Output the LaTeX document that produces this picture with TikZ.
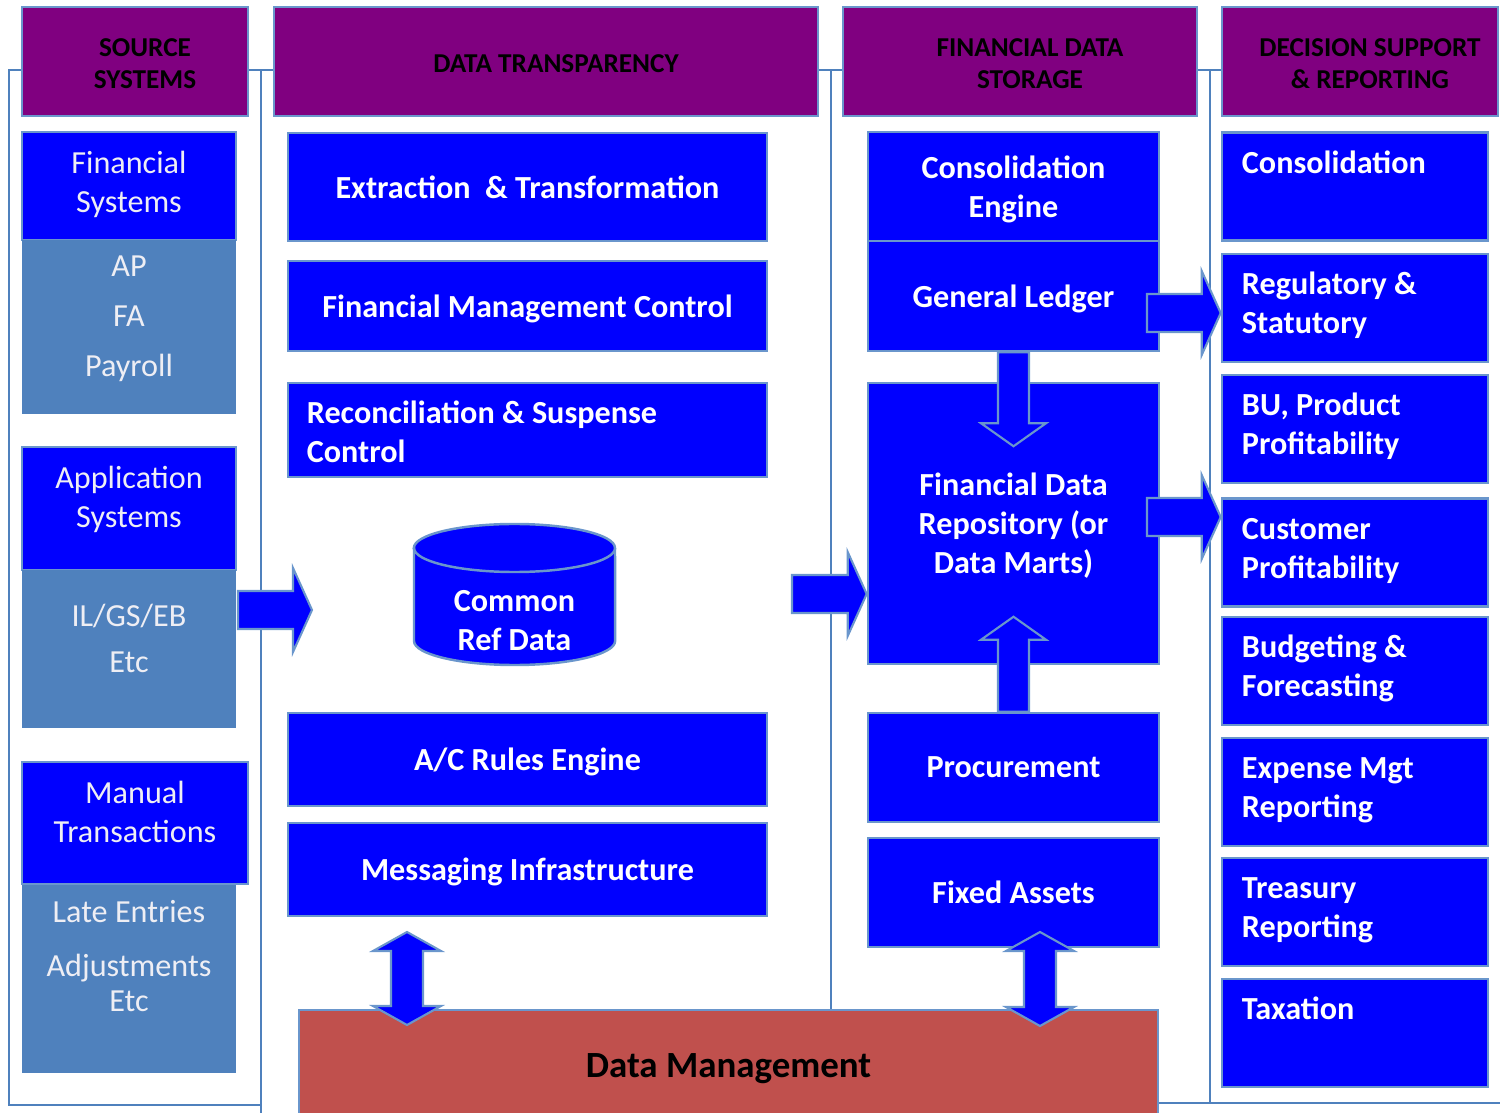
\documentclass[tikz,border=0pt]{standalone}
\usepackage{fontspec}
\setmainfont{Carlito}
\usetikzlibrary{calc}

\definecolor{boxblue}{HTML}{0000FF}
\definecolor{headpurple}{HTML}{800080}
\definecolor{steel}{HTML}{4F81BD}
\definecolor{edge}{HTML}{6A96CC}
\definecolor{dmred}{HTML}{C0504D}
\definecolor{listtext}{HTML}{EEEEF4}

\newcommand{\bodyfont}{\fontsize{9.15}{11.1}\selectfont}
\newcommand{\headfont}{\fontsize{7.75}{9.1}\selectfont\bfseries}
\newcommand{\dmfont}{\fontsize{10.5}{12.6}\selectfont\bfseries}

% text hung from the top of a box: height, width, text
\newcommand{\toptext}[3]{\parbox[c][#1][t]{#2}{\centering\strut #3}}
\newcommand{\lefttext}[3]{\parbox[c][#1][t]{#2}{\raggedright\strut #3}}

% block arrows: tail, tip
\newcommand{\rblock}[2]{%
  \path[blockarrow] ($(#1)+(0,-19)$) -- ($(#2)+(-19,-19)$) -- ($(#2)+(-19,-42)$) -- (#2)
    -- ($(#2)+(-19,42)$) -- ($(#2)+(-19,19)$) -- ($(#1)+(0,19)$) -- cycle;}
% vertical: tail, tip, 1 = up / -1 = down
\newcommand{\vblock}[3]{%
  \path[blockarrow] ($(#1)+(-15.5,0)$) -- ($(#2)+(-15.5,{#3*23})$) -- ($(#2)+(-32.5,{#3*23})$) -- (#2)
    -- ($(#2)+(32.5,{#3*23})$) -- ($(#2)+(15.5,{#3*23})$) -- ($(#1)+(15.5,0)$) -- cycle;}
% two heads: top tip, bottom tip
\newcommand{\dblock}[2]{%
  \path[blockarrow] (#1) -- ($(#1)+(34,19)$) -- ($(#1)+(16,19)$) -- ($(#2)+(16,-19)$) -- ($(#2)+(34,-19)$)
    -- (#2) -- ($(#2)+(-34,-19)$) -- ($(#2)+(-16,-19)$) -- ($(#1)+(-16,19)$) -- ($(#1)+(-34,19)$) -- cycle;}

\begin{document}
\begin{tikzpicture}[x=0.01cm, y=-0.01cm,
    box/.style={draw=edge, line width=0.7pt, fill=boxblue, text=white, inner sep=0pt,
      align=center, font=\bodyfont\bfseries},
    cbox/.style={box, text depth=0pt},
    srcbox/.style={box, font=\bodyfont, text=listtext},
    listbox/.style={srcbox, fill=steel, draw=none},
    head/.style={draw=edge, line width=0.7pt, fill=headpurple, minimum height=1.09cm, inner sep=0pt},
    headtext/.style={font=\headfont, align=center, text=black, xshift=0.1cm, yshift=-0.02cm},
    blockarrow/.style={fill=boxblue, draw=edge, line width=0.6pt},
    frame/.style={draw=steel, line width=0.6pt}]
  \useasboundingbox (0,0) rectangle (1500,1113);
  \clip (0,0) rectangle (1500,1113);

  % column frames
  \draw[frame] (22,70) -- (9,70) -- (9,1105) -- (261,1105);
  \draw[frame] (248,70) -- (274,70);
  \draw[frame] (261,70) -- (261,1113);
  \draw[frame] (818,70) -- (843,70);
  \draw[frame] (831,70) -- (831,1010);
  \draw[frame] (1197,70) -- (1222,70);
  \draw[frame] (1210,70) -- (1210,1103) (1158,1103) -- (1500,1103);

  % headers
  \node[head, minimum width=2.26cm, label={[headtext]center:{SOURCE\\SYSTEMS}}] (hsrc) at (135,61.5) {};
  \node[head, minimum width=5.44cm, label={[headtext]center:{DATA TRANSPARENCY}}] (htr) at (546,61.5) {};
  \node[head, minimum width=3.54cm, label={[headtext]center:{FINANCIAL DATA\\STORAGE}}] (hfds) at (1020,61.5) {};
  \node[head, minimum width=2.76cm, label={[headtext]center:{DECISION SUPPORT\\\& REPORTING}}] (hdsr) at (1360,61.5) {};

  % source systems
  \node[srcbox, minimum width=2.14cm, minimum height=1.08cm] (fs) at (129,186) {\toptext{0.79cm}{2cm}{Financial\\Systems}};
  \node[listbox, minimum width=2.14cm, minimum height=1.74cm] (fsl) at (129,327) {\toptext{1.55cm}{2cm}{AP\\[0.11cm]FA\\[0.11cm]Payroll}};
  \node[srcbox, minimum width=2.14cm, minimum height=1.23cm] (as) at (129,508.5) {\toptext{0.94cm}{2cm}{Application\\Systems}};
  \node[listbox, minimum width=2.14cm, minimum height=1.58cm] (asl) at (129,649) {\toptext{0.99cm}{2cm}{IL/GS/EB\\[0.07cm]Etc}};
  \node[listbox, minimum width=2.14cm, minimum height=1.89cm] (mtl) at (129,978.5) {\toptext{1.66cm}{2cm}{Late Entries\\[0.15cm]Adjustments\\[-0.04cm]Etc}};
  \node[srcbox, minimum width=2.26cm, minimum height=1.22cm] (mt) at (135,823) {\toptext{0.94cm}{2.2cm}{Manual\\Transactions}};

  % data transparency
  \node[cbox, minimum width=4.79cm, minimum height=1.08cm] (et) at (527.5,187) {Extraction\ \ \& Transformation};
  \node[cbox, minimum width=4.79cm, minimum height=0.90cm] (fmc) at (527.5,306) {Financial Management Control};
  \node[box, minimum width=4.79cm, minimum height=0.94cm] (rsc) at (527.5,430) {\lefttext{0.67cm}{4.41cm}{Reconciliation \& Suspense\\Control}};
  \node[cbox, minimum width=4.79cm, minimum height=0.93cm] (acr) at (527.5,759.5) {A/C Rules Engine};
  \node[cbox, minimum width=4.79cm, minimum height=0.93cm] (msg) at (527.5,869.5) {Messaging Infrastructure};

  \filldraw[fill=boxblue, draw=edge, line width=0.7pt] (414,548) -- (414,641)
    arc[start angle=180, end angle=360, x radius=1.005cm, y radius=0.24cm] -- (615,548)
    arc[start angle=0, end angle=180, x radius=1.005cm, y radius=0.24cm] -- cycle;
  \draw[edge, line width=0.7pt] (414,548) arc[start angle=180, end angle=360, x radius=1.005cm, y radius=0.24cm];
  \node[font=\bodyfont\bfseries, text=white, align=center, text depth=0pt] (cref) at (514.5,620.5) {Common\\Ref Data};

  % financial data storage
  \node[cbox, minimum width=2.91cm, minimum height=1.09cm] (ce) at (1013.5,186.5) {Consolidation\\Engine};
  \node[cbox, minimum width=2.91cm, minimum height=1.10cm] (gl) at (1013.5,296) {General Ledger};
  \node[cbox, minimum width=2.91cm, minimum height=2.81cm] (fdr) at (1013.5,523.5) {Financial Data\\Repository (or\\Data Marts)};
  \node[cbox, minimum width=2.91cm, minimum height=1.09cm] (proc) at (1013.5,767.5) {Procurement};
  \node[cbox, minimum width=2.91cm, minimum height=1.09cm] (fa) at (1013.5,892.5) {Fixed Assets};

  % decision support
  \foreach \yc/\txt [count=\i] in {186.5/Consolidation, 308/{Regulatory \&\\Statutory},
      429/{BU, Product\\Profitability}, 552.5/{Customer\\Profitability}, 671/{Budgeting \&\\Forecasting},
      792/{Expense Mgt\\Reporting}, 912/{Treasury\\Reporting}, 1033/Taxation}
    \node[box, minimum width=2.66cm, minimum height=1.08cm] (ds\i) at (1355,\yc) {\lefttext{0.81cm}{2.26cm}{\txt}};

  \node[draw=edge, line width=0.7pt, fill=dmred, minimum width=8.59cm, minimum height=1.12cm,
    font=\dmfont, text depth=0pt] (dm) at (728.5,1066) {Data Management};

  % arrows
  \coordinate (a1) at (238,610);
  \coordinate (a1t) at (312,610);
  \coordinate (a2) at (792,594);
  \coordinate (a2t) at (fdr.west |- a2);
  \coordinate (a3) at (1147,313);
  \coordinate (a3t) at (ds2.west |- a3);
  \coordinate (a4) at (1147,517);
  \coordinate (a4t) at (ds4.west |- a4);
  \coordinate (v1t) at ($(gl.south)+(0,94)$);
  \coordinate (v2t) at ($(proc.north)+(0,-95)$);
  \coordinate (d1a) at (407,932);
  \coordinate (d1b) at (407,1025);
  \coordinate (d2a) at (1040,932);
  \coordinate (d2b) at (1040,1026);

  \rblock{a1}{a1t}
  \rblock{a2}{a2t}
  \rblock{a3}{a3t}
  \rblock{a4}{a4t}
  \vblock{gl.south}{v1t}{-1}
  \vblock{proc.north}{v2t}{1}
  \dblock{d1a}{d1b}
  \dblock{d2a}{d2b}

\end{tikzpicture}
\end{document}
